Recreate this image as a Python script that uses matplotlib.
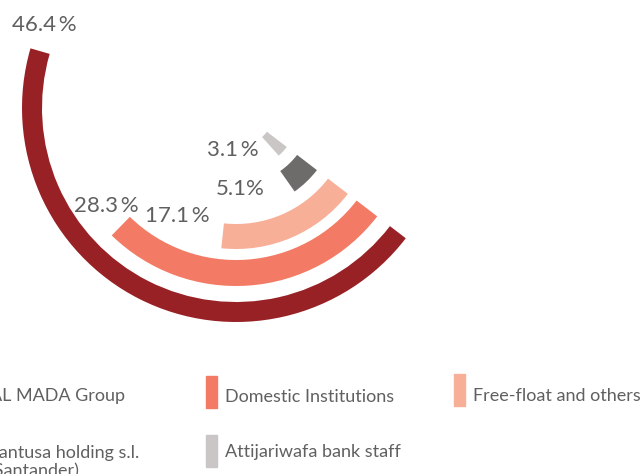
import numpy as np
import matplotlib
matplotlib.use("Agg")
import matplotlib.pyplot as plt
from matplotlib.patches import Rectangle

plt.rcParams['font.family'] = ['Lato', 'DejaVu Sans']

# shareholders, outer ring first
holders = ['AL MADA Group', 'Domestic Institutions', 'Free-float and others',
           'Santusa holding s.l.\n(Santander)', 'Attijariwafa bank staff']
shares = [46.4, 28.3, 17.1, 5.1, 3.1]
pct_labels = ['46.4\u2009%', '28.3\u2009%', '17.1\u2009%', '5.1%', '3.1\u2009%']
colors = ['#982126', '#F37B65', '#F8AF98', '#6E6C6A', '#CAC6C5']

W, H = 641, 474
CX, CY = 236, 108            # centre of the rings, px from top-left
RMAX = 214
DEG_PER_PCT = 3.42
END_ANGLE = -37.5
ring_in = [194, 152, 116, 77, 39]
ring_out = [214, 178, 141, 102, 64]
txt = '#606060'

fig = plt.figure(figsize=(W / 100, H / 100), dpi=100)
ax = fig.add_axes([(CX - RMAX) / W, (H - CY - RMAX) / H, 2 * RMAX / W, 2 * RMAX / H],
                  projection='polar')
ax.set_theta_offset(np.deg2rad(END_ANGLE))
ax.set_theta_direction(-1)
ax.set_ylim(0, RMAX)
ax.axis('off')

spans = np.deg2rad(np.array(shares) * DEG_PER_PCT)
for sp, r0, r1, c in zip(spans, ring_in, ring_out, colors):
    ax.bar(0, r1 - r0, width=sp, bottom=r0, align='edge', color=c,
           edgecolor='none', clip_on=False)

# percentage labels anchored at the start of each arc
offsets = [(4, 20), (18, 14), (-13, 14), (-23, -14), (-12, -10)]
aligns = ['center', 'right', 'right', 'right', 'right']
for sp, r0, r1, lab, off, ha in zip(spans, ring_in, ring_out, pct_labels, offsets, aligns):
    ax.annotate(lab, xy=(sp, (r0 + r1) / 2), xytext=off, textcoords='offset pixels',
                ha=ha, va='baseline', fontsize=16, color=txt, annotation_clip=False)

# legend, laid out like the original (partly outside the canvas on the left)
def fx(x):
    return x / W

def fy(y):
    return 1 - y / H

leg_pos = [(-10, 401.5), (225, 401.5), (473, 401), (-11, 476), (225, 457)]
marker_top = [376, 376, 374, 435, 435]
for name, c, (x, y), top in zip(holders, colors, leg_pos, marker_top):
    fig.patches.append(Rectangle((fx(x - 19), fy(top + 32)), 11 / W, 32 / H,
                                 transform=fig.transFigure, color=c, clip_on=False))
    fig.text(fx(x), fy(y), name, ha='left', va='baseline', fontsize=13,
             color=txt, linespacing=1.15)

fig.savefig('out.png', dpi=100)
